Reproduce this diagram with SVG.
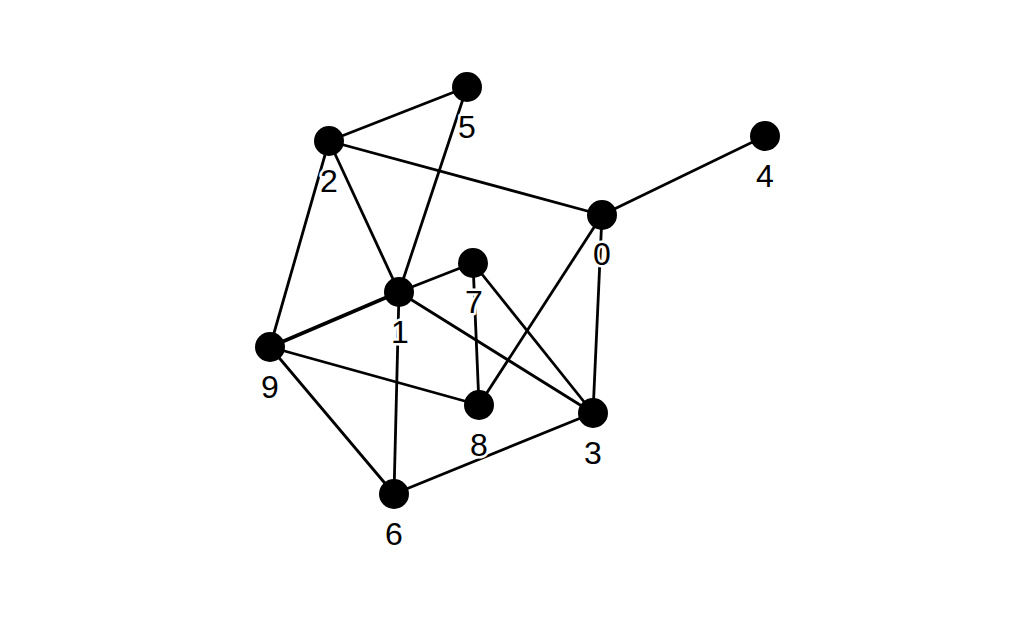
<svg xmlns="http://www.w3.org/2000/svg" width="1024" height="620" viewBox="0 0 1024 620">
<style>
.e{stroke:#000;stroke-width:2.8;fill:none}
.n{fill:#000}
.l{font-family:"Liberation Sans",Arial,sans-serif;font-size:32px;fill:#000;text-anchor:middle;stroke:#fff;stroke-width:5;paint-order:stroke;stroke-linejoin:round}
</style>
<rect width="1024" height="620" fill="#fff"/>
<g id="connectors">
<line class="e" x1="329" y1="141" x2="467" y2="87"/>
<line class="e" x1="329" y1="141" x2="602" y2="215"/>
<line class="e" x1="329" y1="141" x2="399" y2="292"/>
<line class="e" x1="329" y1="141" x2="270" y2="347"/>
<line class="e" x1="467" y1="87" x2="399" y2="292"/>
<line class="e" x1="602" y1="215" x2="765" y2="136"/>
<line class="e" x1="602" y1="215" x2="479" y2="405"/>
<line class="e" x1="602" y1="215" x2="593" y2="413"/>
<line class="e" x1="399" y1="292" x2="473" y2="263"/>
<line class="e" x1="270" y1="347" x2="399" y2="292" style="stroke-width:3.6"/>
<line class="e" x1="399" y1="292" x2="593" y2="413"/>
<line class="e" x1="399" y1="292" x2="394" y2="494"/>
<line class="e" x1="473" y1="263" x2="479" y2="405"/>
<line class="e" x1="473" y1="263" x2="593" y2="413"/>
<line class="e" x1="270" y1="347" x2="479" y2="405"/>
<line class="e" x1="270" y1="347" x2="394" y2="494"/>
<line class="e" x1="394" y1="494" x2="593" y2="413"/>
</g>
<g id="node0"><circle class="n" cx="602" cy="215" r="15"/><text class="l" x="602" y="265">0</text></g>
<g id="node1"><circle class="n" cx="399" cy="292" r="15"/><text class="l" x="400" y="343">1</text></g>
<g id="node2"><circle class="n" cx="329" cy="141" r="15"/><text class="l" x="329" y="192">2</text></g>
<g id="node3"><circle class="n" cx="593" cy="413" r="15"/><text class="l" x="593" y="464">3</text></g>
<g id="node4"><circle class="n" cx="765" cy="136" r="15"/><text class="l" x="765" y="187">4</text></g>
<g id="node5"><circle class="n" cx="467" cy="87" r="15"/><text class="l" x="467" y="138">5</text></g>
<g id="node6"><circle class="n" cx="394" cy="494" r="15"/><text class="l" x="394" y="545">6</text></g>
<g id="node7"><circle class="n" cx="473" cy="263" r="15"/><text class="l" x="474" y="313">7</text></g>
<g id="node8"><circle class="n" cx="479" cy="405" r="15"/><text class="l" x="479" y="456">8</text></g>
<g id="node9"><circle class="n" cx="270" cy="347" r="15"/><text class="l" x="270" y="398">9</text></g>
</svg>
